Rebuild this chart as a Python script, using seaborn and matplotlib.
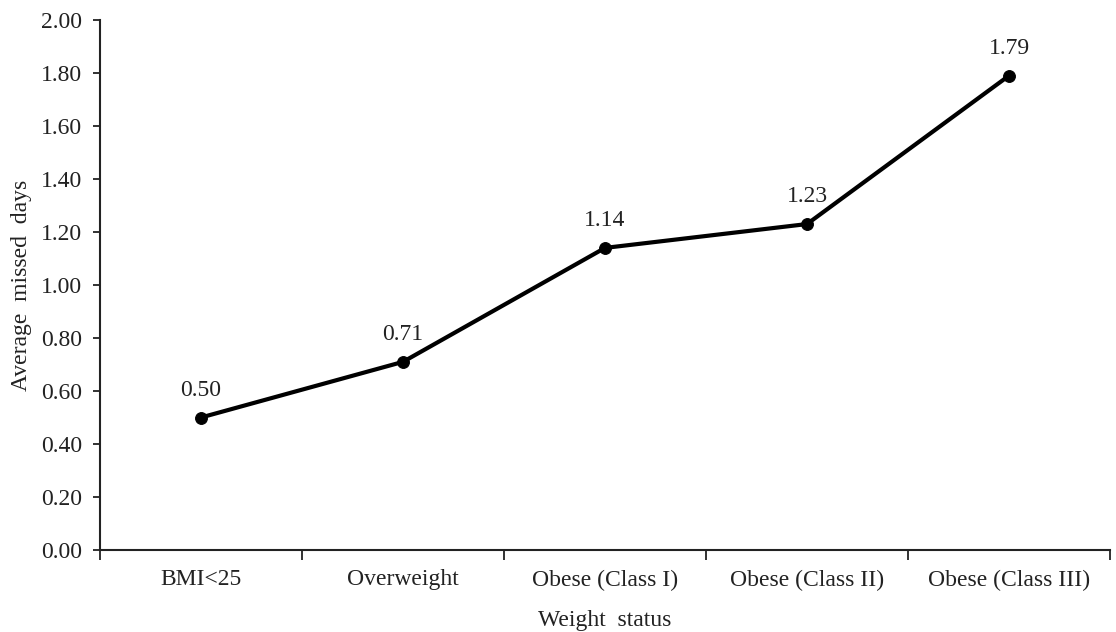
import matplotlib
matplotlib.use("Agg")
import matplotlib.pyplot as plt
import seaborn as sns
import pandas as pd
import numpy as np

categories = ["BMI<25", "Overweight", "Obese (Class I)", "Obese (Class II)", "Obese (Class III)"]
values = [0.50, 0.71, 1.14, 1.23, 1.79]
value_labels = ["0.50", "0.71", "1.14", "1.23", "1.79"]
yticks = [0.0, 0.2, 0.4, 0.6, 0.8, 1.0, 1.2, 1.4, 1.6, 1.8, 2.0]

sns.set_style("white")
plt.rcParams['font.family'] = ['Liberation Serif', 'DejaVu Serif']

df = pd.DataFrame({"Weight status": categories, "Average missed days": values})

fig = plt.figure(figsize=(11.16, 6.32), dpi=100)
ax = fig.add_axes([100/1116, 1-550/632, 1010/1116, 530/632])

sns.lineplot(data=df, x="Weight status", y="Average missed days", ax=ax,
             color="black", linewidth=3.0, marker="o", markersize=8.5,
             markeredgecolor="black", sort=False)

FS = 17
TC = "#222222"
ax.set_xlim(-0.5, len(categories) - 0.5)
ax.set_ylim(0, 2.0)
ax.set_yticks(yticks)
ax.set_yticklabels([f"{t:.2f}" for t in yticks], fontsize=FS, color=TC)
ax.set_xticks(range(len(categories)))
ax.set_xticklabels(categories, fontsize=FS, color=TC)
ax.set_xticks(np.arange(-0.5, len(categories), 1.0), minor=True)
ax.tick_params(axis="x", which="major", length=0, pad=14)
ax.tick_params(axis="x", which="minor", bottom=True, length=7, width=1.3,
               direction="out", color=TC)
ax.tick_params(axis="y", which="major", length=5, width=1.3, direction="out",
               color=TC, pad=8, left=True)

for i, (v, lab) in enumerate(zip(values, value_labels)):
    ax.annotate(lab, (i, v), xytext=(0, 12), textcoords="offset points",
                ha="center", va="bottom", fontsize=FS, color=TC)

ax.set_xlabel("Weight  status", fontsize=FS, color=TC, labelpad=14)
ax.set_ylabel("Average  missed  days", fontsize=FS, color=TC, labelpad=6)

for s in ["top", "right"]:
    ax.spines[s].set_visible(False)
for s in ["left", "bottom"]:
    ax.spines[s].set_color(TC)
    ax.spines[s].set_linewidth(1.5)

fig.savefig("out.png", dpi=100, facecolor="white")
